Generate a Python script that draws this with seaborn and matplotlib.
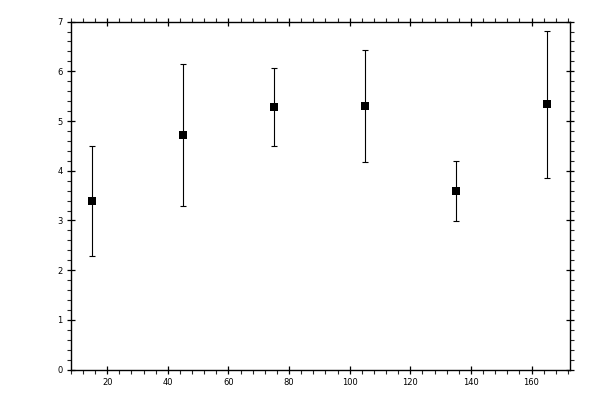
import matplotlib
matplotlib.use("Agg")
import matplotlib.pyplot as plt
import seaborn as sns
import pandas as pd
from matplotlib.ticker import MultipleLocator

x_vals = [15, 45, 75, 105, 135, 165]
y_vals = [3.39, 4.72, 5.28, 5.30, 3.59, 5.34]
y_err = [1.10, 1.42, 0.78, 1.12, 0.60, 1.48]

df = pd.DataFrame({"x": x_vals, "y": y_vals, "err": y_err})

sns.set_style("ticks")
plt.rcParams["font.family"] = ["DejaVu Sans"]

fig = plt.figure(figsize=(6, 4), dpi=100)
ax = fig.add_axes([0.118, 0.076, 0.832, 0.87])

ax.errorbar(df["x"], df["y"], yerr=df["err"], fmt="none", ecolor="black",
            elinewidth=0.8, capsize=2.5, capthick=0.8, zorder=2)
sns.scatterplot(data=df, x="x", y="y", marker="s", color="black", s=30,
                edgecolor="black", linewidth=0, ax=ax, zorder=3)

ax.set_xlim(8, 172.7)
ax.set_ylim(0, 7)
ax.xaxis.set_major_locator(MultipleLocator(20))
ax.xaxis.set_minor_locator(MultipleLocator(4))
ax.yaxis.set_major_locator(MultipleLocator(1))
ax.yaxis.set_minor_locator(MultipleLocator(0.2))
ax.set_xlabel("")
ax.set_ylabel("")

for s in ax.spines.values():
    s.set_linewidth(1.0)
    s.set_color("black")

ax.tick_params(which="major", direction="inout", length=6, width=0.9,
               top=True, right=True, labelsize=6, pad=3, colors="black")
ax.tick_params(which="minor", direction="out", length=3, width=0.8,
               top=True, right=True)
ax.set_xticks([20, 40, 60, 80, 100, 120, 140, 160])

fig.savefig("out.png", dpi=100)
